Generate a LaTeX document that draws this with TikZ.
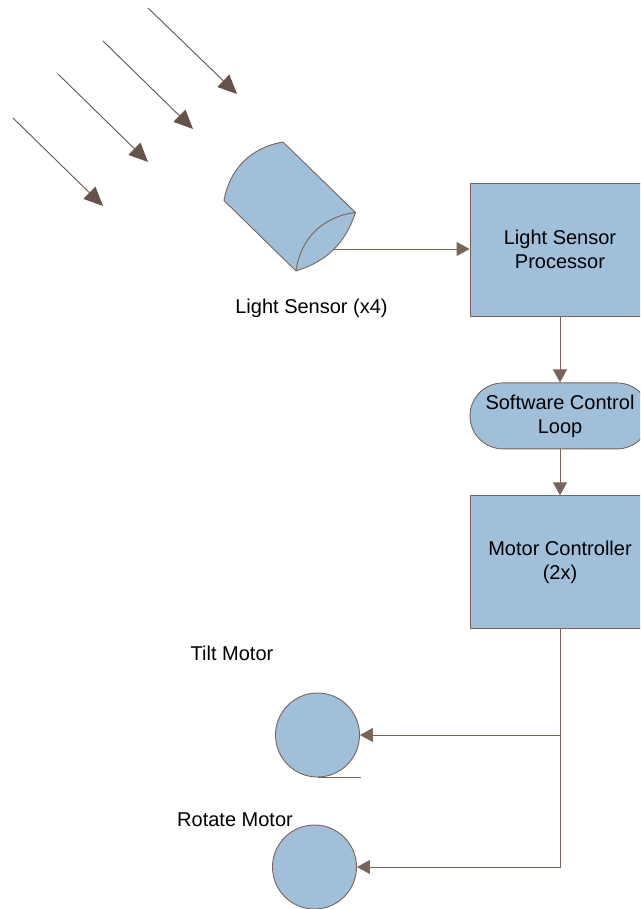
\documentclass[tikz,border=0pt]{standalone}
\usepackage{fontspec}
\setmainfont{Liberation Sans}
\usetikzlibrary{positioning, arrows.meta}

\definecolor{shapefill}{HTML}{A0BFD9}
\definecolor{shapeline}{HTML}{7A6358}
\definecolor{raytip}{HTML}{65524A}

\begin{document}
\begin{tikzpicture}[
    x=1pt, y=-1pt,
    % Same text size and outline for all blocks
    font=\fontsize{20}{24}\selectfont,
    node distance=66pt,
    block/.style={rectangle, draw=shapeline, fill=shapefill, line width=0.9pt, align=center, minimum width=180pt, minimum height=133pt, inner sep=0pt},
    pill/.style={block, rounded corners=33pt, minimum height=66pt},
    motor/.style={circle, draw=shapeline, fill=shapefill, line width=0.9pt, minimum size=84pt, inner sep=0pt},
    label/.style={inner sep=0pt},
    arrow/.style={-{Triangle[length=13pt, width=14pt]}, draw=shapeline, line width=0.9pt},
    ray/.style={-{Triangle[length=19pt, width=17pt]}, draw=raytip, line width=0.9pt}
]
    \clip (0,0) rectangle (640,909);

    % Sensor body
    \coordinate (sl) at (224,200.5);
    \coordinate (st) at (283,142);
    \coordinate (sr) at (355.5,212.5);
    \coordinate (sb) at (296,271);
    \coordinate (sout) at (333,249);
    \draw[shapeline, fill=shapefill, line width=0.9pt] (sl) -- (sb) to[bend right=27] (sr) -- (st) to[bend right=35] (sl) -- cycle;
    \draw[shapeline, line width=0.9pt] (sb) to[bend left=38] (sr);

    % Incoming light
    \foreach \i/\xa/\ya/\xb/\yb in {1/13/118/103/206, 2/58/74/148/162, 3/103/41/193/129, 4/148/8/237/94} {
        \coordinate (rs\i) at (\xa,\ya);
        \coordinate (re\i) at (\xb,\yb);
        \draw[ray] (rs\i) -- (re\i);
    }

    \node[block] (proc) at (560,249.5) {Light Sensor\\Processor};
    \node[pill] (loop) [below=66pt of proc] {Software Control\\Loop};
    \node[block] (ctrl) [below=46pt of loop] {Motor Controller\\(2x)};

    \node[motor] (tilt) at (317.5,735) {};
    \node[motor] (rot) at (314.5,867) {};

    \node[label] (lsens) at (311.5,308) {Light Sensor (x4)};
    \node[label] (ltilt) at (232,653) {Tilt Motor};
    \node[label] (lrot) at (235,820) {Rotate Motor};

    \draw[arrow] (sout) -- (sout -| proc.west);
    \draw[arrow] (proc) -- (loop);
    \draw[arrow] (loop) -- (ctrl);

    \coordinate (jn1) at (ctrl.south |- tilt);
    \coordinate (jn2) at (ctrl.south |- rot);
    \draw[arrow] (jn1) -- (tilt);
    \draw[arrow] (ctrl) -- (jn2) -- (rot);

    % Motor tails
    \draw[shapeline, line width=0.9pt] (tilt.south) -- ++(43,0);
    \draw[shapeline, line width=0.9pt] (rot.south) -- ++(43,0);
\end{tikzpicture}
\end{document}
